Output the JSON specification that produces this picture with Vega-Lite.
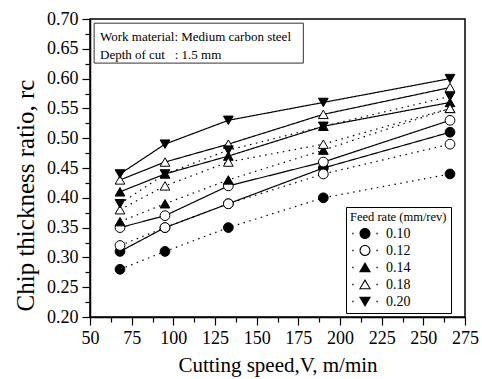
{
  "$schema": "https://vega.github.io/schema/vega-lite/v6.json",
  "width": 375,
  "height": 298,
  "autosize": {"type": "none"},
  "padding": {"left": 90, "top": 19, "right": 17, "bottom": 62},
  "background": "white",
  "config": {
    "font": "Liberation Serif",
    "view": {"stroke": "black", "strokeWidth": 1.5},
    "axis": {
      "grid": false,
      "domainColor": "black",
      "domainWidth": 1.5,
      "tickColor": "black",
      "tickWidth": 1.2,
      "labelColor": "black",
      "titleColor": "black",
      "labelFont": "Liberation Serif",
      "titleFont": "Liberation Serif",
      "labelFontSize": 18,
      "titleFontWeight": "normal",
      "labelOverlap": false,
      "labelFlush": false
    }
  },
  "data": {
    "values": [
      {"V": 68, "feed": "0.10", "set": "A", "rc": 0.31},
      {"V": 95, "feed": "0.10", "set": "A", "rc": 0.35},
      {"V": 133, "feed": "0.10", "set": "A", "rc": 0.39},
      {"V": 190, "feed": "0.10", "set": "A", "rc": 0.45},
      {"V": 266, "feed": "0.10", "set": "A", "rc": 0.51},
      {"V": 68, "feed": "0.12", "set": "A", "rc": 0.35},
      {"V": 95, "feed": "0.12", "set": "A", "rc": 0.37},
      {"V": 133, "feed": "0.12", "set": "A", "rc": 0.42},
      {"V": 190, "feed": "0.12", "set": "A", "rc": 0.46},
      {"V": 266, "feed": "0.12", "set": "A", "rc": 0.53},
      {"V": 68, "feed": "0.14", "set": "A", "rc": 0.41},
      {"V": 95, "feed": "0.14", "set": "A", "rc": 0.44},
      {"V": 133, "feed": "0.14", "set": "A", "rc": 0.47},
      {"V": 190, "feed": "0.14", "set": "A", "rc": 0.52},
      {"V": 266, "feed": "0.14", "set": "A", "rc": 0.56},
      {"V": 68, "feed": "0.18", "set": "A", "rc": 0.43},
      {"V": 95, "feed": "0.18", "set": "A", "rc": 0.46},
      {"V": 133, "feed": "0.18", "set": "A", "rc": 0.49},
      {"V": 190, "feed": "0.18", "set": "A", "rc": 0.54},
      {"V": 266, "feed": "0.18", "set": "A", "rc": 0.585},
      {"V": 68, "feed": "0.20", "set": "A", "rc": 0.44},
      {"V": 95, "feed": "0.20", "set": "A", "rc": 0.49},
      {"V": 133, "feed": "0.20", "set": "A", "rc": 0.53},
      {"V": 190, "feed": "0.20", "set": "A", "rc": 0.56},
      {"V": 266, "feed": "0.20", "set": "A", "rc": 0.60},
      {"V": 68, "feed": "0.10", "set": "B", "rc": 0.28},
      {"V": 95, "feed": "0.10", "set": "B", "rc": 0.31},
      {"V": 133, "feed": "0.10", "set": "B", "rc": 0.35},
      {"V": 190, "feed": "0.10", "set": "B", "rc": 0.40},
      {"V": 266, "feed": "0.10", "set": "B", "rc": 0.44},
      {"V": 68, "feed": "0.12", "set": "B", "rc": 0.32},
      {"V": 95, "feed": "0.12", "set": "B", "rc": 0.35},
      {"V": 133, "feed": "0.12", "set": "B", "rc": 0.39},
      {"V": 190, "feed": "0.12", "set": "B", "rc": 0.44},
      {"V": 266, "feed": "0.12", "set": "B", "rc": 0.49},
      {"V": 68, "feed": "0.14", "set": "B", "rc": 0.36},
      {"V": 95, "feed": "0.14", "set": "B", "rc": 0.39},
      {"V": 133, "feed": "0.14", "set": "B", "rc": 0.43},
      {"V": 190, "feed": "0.14", "set": "B", "rc": 0.48},
      {"V": 266, "feed": "0.14", "set": "B", "rc": 0.55},
      {"V": 68, "feed": "0.18", "set": "B", "rc": 0.38},
      {"V": 95, "feed": "0.18", "set": "B", "rc": 0.42},
      {"V": 133, "feed": "0.18", "set": "B", "rc": 0.46},
      {"V": 190, "feed": "0.18", "set": "B", "rc": 0.49},
      {"V": 266, "feed": "0.18", "set": "B", "rc": 0.55},
      {"V": 68, "feed": "0.20", "set": "B", "rc": 0.39},
      {"V": 95, "feed": "0.20", "set": "B", "rc": 0.44},
      {"V": 133, "feed": "0.20", "set": "B", "rc": 0.48},
      {"V": 190, "feed": "0.20", "set": "B", "rc": 0.52},
      {"V": 266, "feed": "0.20", "set": "B", "rc": 0.57}
    ]
  },
  "encoding": {
    "x": {
      "field": "V",
      "type": "quantitative",
      "scale": {"domain": [50, 275], "nice": false, "zero": false},
      "axis": {
        "title": "Cutting speed,V, m/min",
        "titleFontSize": 21,
        "values": [50, 62.5, 75, 87.5, 100, 112.5, 125, 137.5, 150, 162.5, 175, 187.5, 200, 212.5, 225, 237.5, 250, 262.5, 275],
        "labelExpr": "datum.value % 25 === 0 ? datum.label : ''",
        "tickSize": {"condition": {"test": "datum.value % 25 === 0", "value": 8}, "value": 5},
        "labelPadding": 4,
        "titlePadding": 7
      }
    },
    "y": {
      "field": "rc",
      "type": "quantitative",
      "scale": {"domain": [0.2, 0.7], "nice": false, "zero": false},
      "axis": {
        "title": "Chip thickness ratio, rc",
        "titleFontSize": 25,
        "titleY": 176,
        "values": [0.2, 0.225, 0.25, 0.275, 0.3, 0.325, 0.35, 0.375, 0.4, 0.425, 0.45, 0.475, 0.5, 0.525, 0.55, 0.575, 0.6, 0.625, 0.65, 0.675, 0.7],
        "labelExpr": "round(datum.value * 1000) % 50 === 0 ? format(datum.value, '.2f') : ''",
        "tickSize": {"condition": {"test": "round(datum.value * 1000) % 50 === 0", "value": 8}, "value": 5},
        "labelPadding": 4,
        "titlePadding": 8
      }
    }
  },
  "layer": [
    {
      "mark": {"type": "line", "color": "black", "strokeWidth": 1.2},
      "encoding": {
        "detail": {"field": "feed"},
        "strokeDash": {
          "field": "set",
          "type": "nominal",
          "scale": {"domain": ["A", "B"], "range": [[1, 0], [1.5, 4.5]]},
          "legend": null
        }
      }
    },
    {
      "mark": {"type": "point", "filled": true, "stroke": "black", "strokeWidth": 1, "opacity": 1},
      "encoding": {
        "shape": {
          "field": "feed",
          "type": "nominal",
          "scale": {"domain": ["0.10", "0.12", "0.14", "0.18", "0.20"], "range": ["circle", "circle", "triangle-up", "triangle-up", "triangle-down"]},
          "legend": null
        },
        "fill": {
          "field": "feed",
          "type": "nominal",
          "scale": {"domain": ["0.10", "0.12", "0.14", "0.18", "0.20"], "range": ["black", "white", "black", "white", "black"]},
          "legend": null
        },
        "size": {
          "field": "feed",
          "type": "nominal",
          "scale": {"domain": ["0.10", "0.12", "0.14", "0.18", "0.20"], "range": [95, 95, 130, 130, 130]},
          "legend": null
        }
      }
    },
    {
      "transform": [{"filter": "datum.V < 0"}],
      "mark": {"type": "point", "filled": true, "color": "black", "strokeWidth": 0, "opacity": 1},
      "encoding": {
        "shape": {
          "field": "feed",
          "type": "nominal",
          "scale": {
            "domain": ["0.10", "0.12", "0.14", "0.18", "0.20"],
            "range": [
              "M1.1,0A1.1,1.1,0,1,1,-1.1,0A1.1,1.1,0,1,1,1.1,0Z M-2.55,-0.13h0.26v0.26h-0.26Z M2.29,-0.13h0.26v0.26h-0.26Z",
              "M1.1,0A1.1,1.1,0,1,1,-1.1,0A1.1,1.1,0,1,1,1.1,0Z M0.88,0A0.88,0.88,0,1,0,-0.88,0A0.88,0.88,0,1,0,0.88,0Z M-2.55,-0.13h0.26v0.26h-0.26Z M2.29,-0.13h0.26v0.26h-0.26Z",
              "M0,-1.1L1.2,0.95L-1.2,0.95Z M-2.55,-0.13h0.26v0.26h-0.26Z M2.29,-0.13h0.26v0.26h-0.26Z",
              "M0,-1.1L1.2,0.95L-1.2,0.95Z M0,-0.66L-0.86,0.75L0.86,0.75Z M-2.55,-0.13h0.26v0.26h-0.26Z M2.29,-0.13h0.26v0.26h-0.26Z",
              "M0,1.1L-1.2,-0.95L1.2,-0.95Z M-2.55,-0.13h0.26v0.26h-0.26Z M2.29,-0.13h0.26v0.26h-0.26Z"
            ]
          },
          "legend": {
            "title": "Feed rate (mm/rev)",
            "orient": "none",
            "legendX": 256,
            "legendY": 188,
            "strokeColor": "black",
            "fillColor": "white",
            "padding": 4,
            "titleFont": "Liberation Serif",
            "titleFontSize": 12.5,
            "titleFontWeight": "normal",
            "titleColor": "black",
            "titlePadding": 3,
            "labelFont": "Liberation Serif",
            "labelFontSize": 14,
            "labelColor": "black",
            "labelOffset": 14,
            "symbolOffset": 8,
            "symbolSize": 100,
            "symbolStrokeWidth": 0,
            "rowPadding": 3,
            "encode": {
              "symbols": {
                "update": {
                  "fill": {"value": "black"},
                  "fillOpacity": {"value": 1},
                  "strokeWidth": {"value": 0}
                }
              }
            }
          }
        }
      }
    },
    {
      "transform": [{"filter": "datum.V === 68 && datum.feed === '0.10' && datum.set === 'A'"}],
      "mark": {"type": "rect", "fill": "white", "stroke": "#333333", "strokeWidth": 1},
      "encoding": {
        "x": {"datum": 52.5},
        "x2": {"datum": 178},
        "y": {"datum": 0.693},
        "y2": {"datum": 0.626}
      }
    },
    {
      "transform": [{"filter": "datum.V === 68 && datum.feed === '0.10' && datum.set === 'A'"}],
      "mark": {"type": "text", "align": "left", "baseline": "middle", "fontSize": 13, "font": "Liberation Serif", "fill": "black"},
      "encoding": {
        "x": {"datum": 56},
        "y": {"datum": 0.669},
        "text": {"value": "Work material: Medium carbon steel"}
      }
    },
    {
      "transform": [{"filter": "datum.V === 68 && datum.feed === '0.10' && datum.set === 'A'"}],
      "mark": {"type": "text", "align": "left", "baseline": "middle", "fontSize": 13, "font": "Liberation Serif", "fill": "black"},
      "encoding": {
        "x": {"datum": 56},
        "y": {"datum": 0.639},
        "text": {"value": "Depth of cut\u00a0\u00a0 : 1.5 mm"}
      }
    }
  ],
  "resolve": {"scale": {"shape": "independent", "fill": "independent", "size": "independent"}}
}
